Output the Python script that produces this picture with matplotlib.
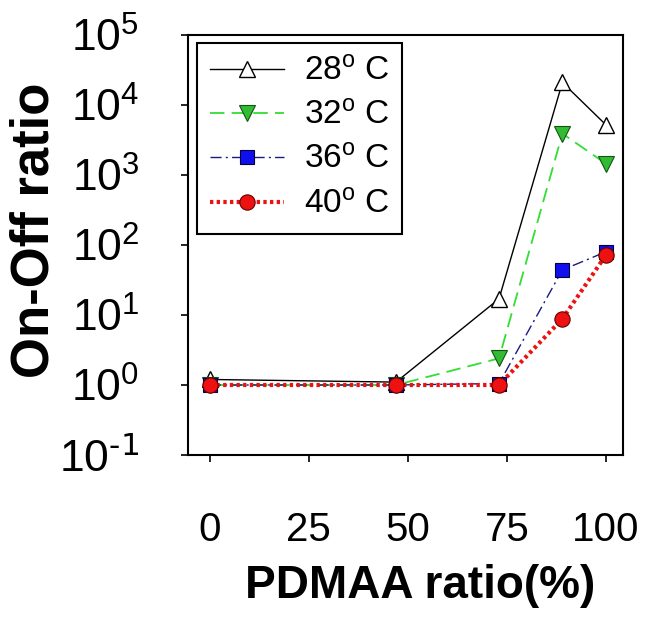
import matplotlib
matplotlib.use("Agg")
import matplotlib.pyplot as plt
from matplotlib.ticker import LogLocator, FuncFormatter, NullLocator
import numpy as np

plt.rcParams['font.family'] = ['Liberation Sans', 'DejaVu Sans']
plt.rcParams['mathtext.default'] = 'regular'
plt.rcParams['axes.unicode_minus'] = False

# data
pdmaa = [0, 47, 73, 89, 100]
ratio_28 = [1.2, 1.1, 17, 21000, 5200]
ratio_32 = [1.0, 1.0, 2.4, 3900, 1450]
ratio_36 = [1.0, 1.0, 1.05, 44, 80]
ratio_40 = [1.0, 1.0, 1.0, 8.8, 72]
labels = ['28$^{o}$ C', '32$^{o}$ C', '36$^{o}$ C', '40$^{o}$ C']
x_ticks = [0, 25, 50, 75, 100]


def pow_label(v, pos):
    # plain hyphen for the negative exponent, like the original
    e = int(round(np.log10(v)))
    if e < 0:
        return '$10^{\\text{-%d}}$' % (-e)
    return '$10^{%d}$' % e


fig = plt.figure(figsize=(6.49, 6.19), dpi=100)
ax = fig.add_axes([188 / 649, 1 - 455 / 619, 435 / 649, 420 / 619])

ax.plot(pdmaa, ratio_28, color='black', lw=1.0, marker='^', ms=11,
        mfc='white', mec='black', mew=1.0, label=labels[0])
ax.plot(pdmaa, ratio_32, color='#33dd33', lw=1.3, ls=(0, (8, 4)), marker='v', ms=11,
        mfc='#33bb33', mec='#115511', mew=0.8, label=labels[1])
ax.plot(pdmaa, ratio_36, color='#1a1a80', lw=1.0, ls=(0, (8, 3, 1.5, 3)), marker='s', ms=10,
        mfc='#1010ee', mec='#000040', mew=0.8, label=labels[2])
ax.plot(pdmaa, ratio_40, color='#ee1111', lw=3.0, ls=(0, (0.8, 0.8)), marker='o', ms=11,
        mfc='#ee1111', mec='#660000', mew=0.8, label=labels[3])

ax.set_yscale('log')
ax.set_ylim(0.1, 1e5)
ax.set_xlim(-5.5, 104.3)
ax.set_xticks(x_ticks)
ax.yaxis.set_major_locator(LogLocator(base=10, numticks=10))
ax.yaxis.set_major_formatter(FuncFormatter(pow_label))
ax.yaxis.set_minor_locator(NullLocator())

ax.tick_params(axis='y', direction='out', length=5, width=1.2, labelsize=32, pad=30)
ax.tick_params(axis='x', direction='out', length=5, width=1.2, labelsize=29, pad=35)
for sp in ax.spines.values():
    sp.set_linewidth(1.5)

ax.set_ylabel('On-Off ratio', fontsize=38, fontweight='bold')
ax.yaxis.set_label_coords(-0.295, 0.536)
ax.set_xlabel('PDMAA ratio(%)', fontsize=33, fontweight='bold')
ax.xaxis.set_label_coords(0.533, -0.26)

leg = ax.legend(loc='upper left', bbox_to_anchor=(197 / 649, 1 - 43 / 619),
                bbox_transform=fig.transFigure, borderaxespad=0, fontsize=24,
                handlelength=2.2, labelspacing=0.4, fancybox=False,
                edgecolor='black', framealpha=1, borderpad=0.4, handletextpad=0.6)
leg.get_frame().set_linewidth(1.5)

fig.savefig('out.png', dpi=100)
